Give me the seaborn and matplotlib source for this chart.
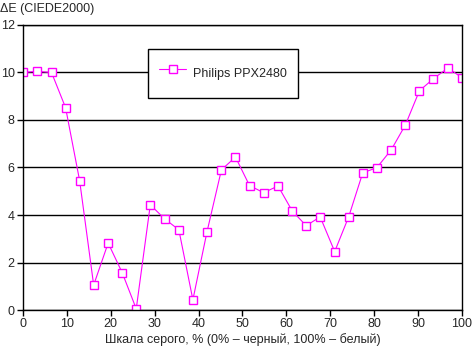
import numpy as np
import pandas as pd
import seaborn as sns
import matplotlib.pyplot as plt

sns.set_style("white")
plt.rcParams['font.family'] = ['Liberation Sans', 'DejaVu Sans']

# grey level, % (32 steps)
gray = [0, 3.2, 6.5, 9.7, 12.9, 16.1, 19.4, 22.6, 25.8, 29.0, 32.3, 35.5,
        38.7, 41.9, 45.2, 48.4, 51.6, 54.8, 58.1, 61.3, 64.5, 67.7, 71.0,
        74.2, 77.4, 80.6, 83.9, 87.1, 90.3, 93.5, 96.8, 100]
delta_e = [10.0, 10.05, 10.0, 8.52, 5.45, 1.05, 2.82, 1.57, 0.05, 4.43, 3.83,
           3.38, 0.43, 3.28, 5.9, 6.44, 5.24, 4.94, 5.22, 4.18, 3.55, 3.92,
           2.46, 3.93, 5.78, 5.99, 6.75, 7.79, 9.23, 9.74, 10.19, 9.78]
series_name = "Philips PPX2480"

d = pd.DataFrame({"x": gray, "y": delta_e, "s": series_name})

fig = plt.figure(figsize=(4.72, 3.52), dpi=100)
ax = fig.add_axes([0.0487, 0.1193, 0.9301, 0.8097])

sns.lineplot(data=d, x="x", y="y", hue="s", palette=["#ff00ff"], ax=ax,
             marker="s", markersize=5.6, markerfacecolor="white",
             markeredgecolor="#ff00ff", markeredgewidth=1.0, linewidth=0.8)

ax.set_xlim(0, 100)
ax.set_ylim(0, 12)
ax.set_xticks(range(0, 101, 10))
ax.set_yticks(range(0, 13, 2))
ax.yaxis.grid(True, color="black", linewidth=1)
ax.set_axisbelow(True)
for s in ax.spines.values():
    s.set_color("black")
    s.set_linewidth(1)
ax.tick_params(axis="both", direction="out", length=4, width=1, color="black",
               labelsize=9, pad=2, bottom=True, left=True)
ax.set_xlabel("Шкала серого, % (0% – черный, 100% – белый)", fontsize=9, labelpad=2)
ax.set_ylabel("")
fig.text(0.0, 0.975, "ΔE (CIEDE2000)", fontsize=9, ha="left", va="center")

leg = ax.legend(loc="center", bbox_to_anchor=(0.455, 0.83), fontsize=9,
                frameon=True, fancybox=False, edgecolor="black",
                handlelength=2.2, handletextpad=0.5, handleheight=2.85,
                borderpad=0.89, framealpha=1)
leg.get_frame().set_linewidth(1)
for t in leg.get_texts():
    t.set_text(series_name)

plt.savefig("out.png", dpi=100)
